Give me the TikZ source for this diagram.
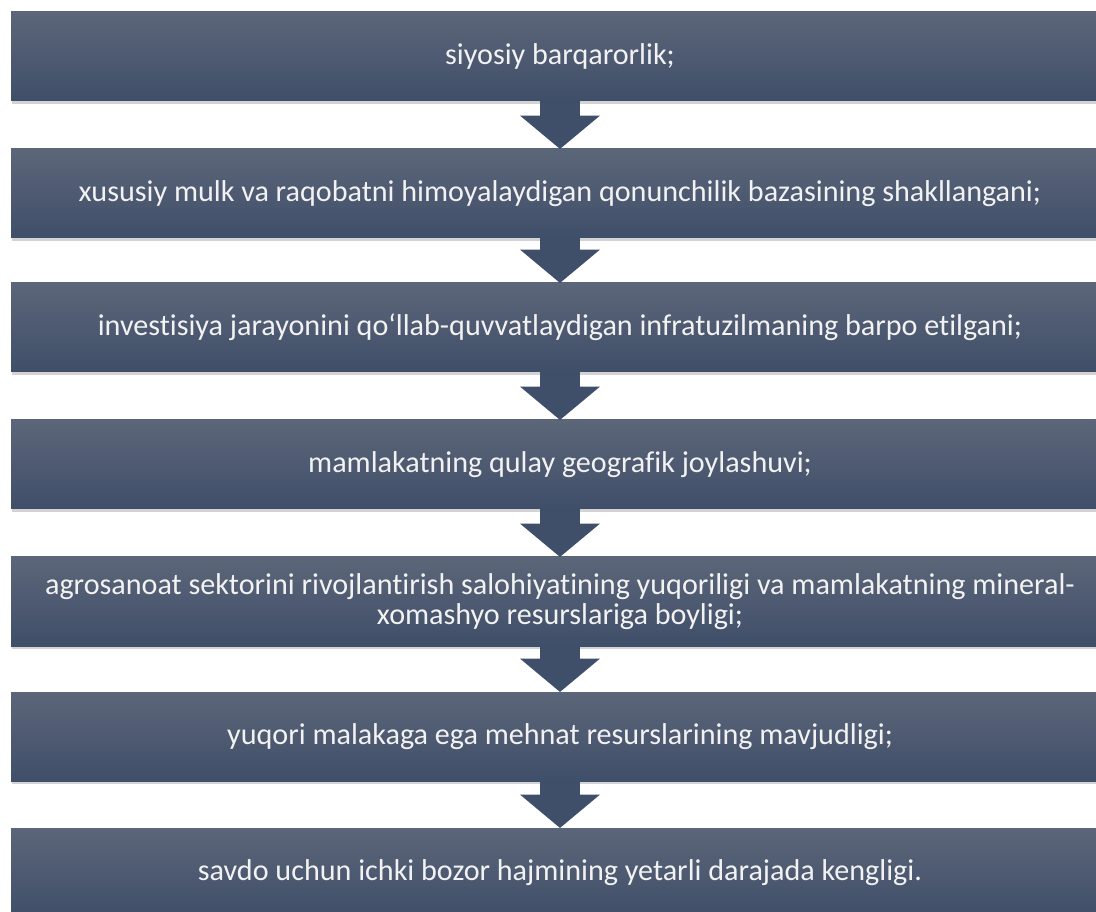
\documentclass[tikz,border=0pt]{standalone}
\usepackage{fontspec}
\setmainfont{Carlito}[Ligatures=NoCommon]
\usetikzlibrary{arrows.meta,shadows}
\definecolor{slatetop}{RGB}{92,102,121}
\definecolor{slatebot}{RGB}{63,78,105}
\definecolor{slatetxt}{RGB}{242,242,242}

\begin{document}
\begin{tikzpicture}[x=0.75pt,y=-0.75pt,
  every node/.style={font=\fontsize{22.6}{22}\selectfont},
  stage/.style={top color=slatetop,bottom color=slatebot,text=slatetxt,align=center,
    minimum width=823.5pt,minimum height=66.75pt,inner sep=0pt,outer sep=0pt,
    drop shadow={shadow xshift=0.8pt,shadow yshift=-2.2pt,opacity=0.35}},
  flow/.style={slatebot,line width=30pt,-{Triangle[width=58.5pt,length=25pt]}}]
  \clip (0,0) rectangle (1096,912);
  % Factors
  \node[stage] (s1) at (560,56.5) {siyosiy barqarorlik;};
  \node[stage] (s2) at (560,193.5) {xususiy mulk va raqobatni himoyalaydigan qonunchilik bazasining shakllangani;};
  \node[stage] (s3) at (560,327.5) {investisiya jarayonini qo‘llab-quvvatlaydigan infratuzilmaning barpo etilgani;};
  \node[stage] (s4) at (560,464.5) {mamlakatning qulay geografik joylashuvi;};
  \node[stage] (s5) at (560,601.5) {agrosanoat sektorini rivojlantirish salohiyatining yuqoriligi va mamlakatning mineral-\\xomashyo resurslariga boyligi;};
  \node[stage] (s6) at (560,736.5) {yuqori malakaga ega mehnat resurslarining mavjudligi;};
  \node[stage] (s7) at (560,872.5) {savdo uchun ichki bozor hajmining yetarli darajada kengligi.};
  % Arrows
  \foreach \a/\b in {s1/s2,s2/s3,s3/s4,s4/s5,s5/s6,s6/s7}
    \draw[flow] (\a) -- (\b);
\end{tikzpicture}
\end{document}
